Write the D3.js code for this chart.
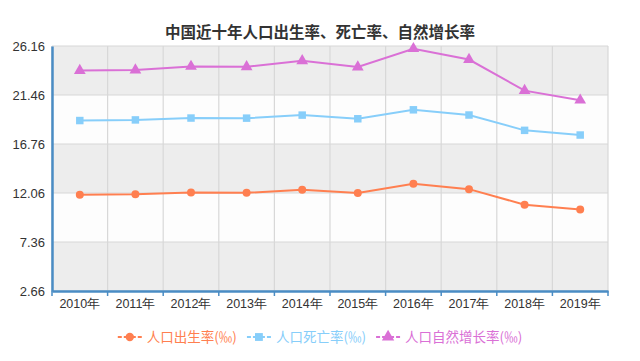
<!DOCTYPE html>
<html><head><meta charset="utf-8">
<script src="https://cdn.jsdelivr.net/npm/d3@7"></script>
<style>body{margin:0;background:#fff;font-family:"Liberation Sans","Noto Sans CJK SC",sans-serif;}</style>
</head><body><svg id="c" width="640" height="361"></svg>
<script>
const years = ["2010年","2011年","2012年","2013年","2014年","2015年","2016年","2017年","2018年","2019年"];
const birthRate = [11.90, 11.93, 12.10, 12.08, 12.37, 12.07, 12.95, 12.43, 10.94, 10.48];
const deathRate = [7.11, 7.14, 7.15, 7.16, 7.16, 7.11, 7.09, 7.11, 7.13, 7.14];
const growthRate = [4.79, 4.79, 4.95, 4.92, 5.21, 4.96, 5.86, 5.32, 3.81, 3.34];
const seriesNames = ["人口出生率(‰)","人口死亡率(‰)","人口自然增长率(‰)"];
const yTicks = [2.66, 7.36, 12.06, 16.76, 21.46, 26.16];
const colors = ["#ff7f50","#87cefa","#da70d6"];
const symbols = [d3.symbolCircle, d3.symbolSquare, d3.symbolTriangle];
const symSizes = [50, 56, 60];

const svg = d3.select("#c");
const m = {l:52, r:608, t:46, b:291};
const x = d3.scaleBand().domain(years).range([m.l, m.r]);
const y = d3.scaleLinear().domain([yTicks[0], yTicks[yTicks.length-1]]).range([m.b, m.t]);

// stacked data
const table = years.map((yr,i)=>({year:yr, s0:birthRate[i], s1:deathRate[i], s2:growthRate[i]}));
const stacked = d3.stack().keys(["s0","s1","s2"])(table);

// split areas
for (let i=0;i<yTicks.length-1;i++){
  svg.append("rect").attr("x",m.l).attr("width",m.r-m.l)
    .attr("y",y(yTicks[i+1])).attr("height",y(yTicks[i])-y(yTicks[i+1]))
    .attr("fill", i%2===0 ? "#ededed" : "#fdfdfd");
}
// grid
svg.append("g").selectAll("line").data(yTicks).join("line")
  .attr("x1",m.l).attr("x2",m.r).attr("y1",d=>y(d)).attr("y2",d=>y(d))
  .attr("stroke","#d8d8d8").attr("stroke-width",1.2);
const xEdges = years.map(d=>x(d)).concat([m.r]);
svg.append("g").selectAll("line").data(xEdges).join("line")
  .attr("x1",d=>d).attr("x2",d=>d).attr("y1",m.t).attr("y2",m.b)
  .attr("stroke","#d8d8d8").attr("stroke-width",1.2);

// axes
const yAxis = svg.append("g").attr("transform",`translate(${m.l},0)`)
  .call(d3.axisLeft(y).tickValues(yTicks).tickFormat(d3.format(".2f")).tickSize(0).tickPadding(7));
yAxis.select(".domain").attr("stroke","#4a8cc4").attr("stroke-width",2.5);
yAxis.selectAll("text").attr("font-size",13).attr("fill","#333").attr("font-family","Liberation Sans, Arial, sans-serif");

const xAxis = svg.append("g").attr("transform",`translate(0,${m.b})`)
  .call(d3.axisBottom(x).tickSize(0).tickPadding(8));
xAxis.select(".domain").attr("stroke","#4a8cc4").attr("stroke-width",2.5);
xAxis.selectAll("text").attr("font-size",12.5).attr("fill","#333");
svg.append("g").selectAll("line").data(xEdges).join("line")
  .attr("x1",d=>d).attr("x2",d=>d).attr("y1",m.b).attr("y2",m.b+5)
  .attr("stroke","#4a8cc4").attr("stroke-width",1.5);

// lines
const cx = d=>x(d.data.year)+x.bandwidth()/2;
stacked.forEach((s,k)=>{
  svg.append("path").datum(s)
    .attr("fill","none").attr("stroke",colors[k]).attr("stroke-width",2)
    .attr("d", d3.line().x(cx).y(d=>y(d[1])));
  svg.append("g").selectAll("path").data(s).join("path")
    .attr("transform",d=>`translate(${cx(d)},${y(d[1])})`)
    .attr("d", d3.symbol().type(symbols[k]).size(symSizes[k]))
    .attr("fill",colors[k]);
});

// title
svg.append("text").attr("x",320).attr("y",38).attr("text-anchor","middle")
  .attr("font-size",15.5).attr("font-weight","bold").attr("fill","#333")
  .attr("font-family","Noto Sans CJK SC, sans-serif")
  .text("中国近十年人口出生率、死亡率、自然增长率");

// legend
const lg = svg.append("g");
let lx = 0;
seriesNames.forEach((n,k)=>{
  const g = lg.append("g").attr("transform",`translate(${lx},0)`);
  g.append("line").attr("x1",0).attr("x2",24).attr("y1",0).attr("y2",0)
    .attr("stroke",colors[k]).attr("stroke-width",2);
  g.append("path").attr("transform","translate(12,0)")
    .attr("d", d3.symbol().type(symbols[k]).size(symSizes[k]*1.1)).attr("fill",colors[k]);
  g.append("rect").attr("x",4).attr("y",-1.5).attr("width",2).attr("height",3).attr("fill","#fff");
  g.append("rect").attr("x",18).attr("y",-1.5).attr("width",2).attr("height",3).attr("fill","#fff");
  const t = g.append("text").attr("x",29).attr("y",5).attr("font-size",13.5).attr("fill",colors[k])
    .attr("font-family","Noto Sans CJK SC, sans-serif").text(n);
  const w = t.node().getComputedTextLength();
  lx += 29 + w + 10;
});
const totalW = lx - 10;
lg.attr("transform",`translate(${320 - totalW/2},337)`);
</script></body></html>
